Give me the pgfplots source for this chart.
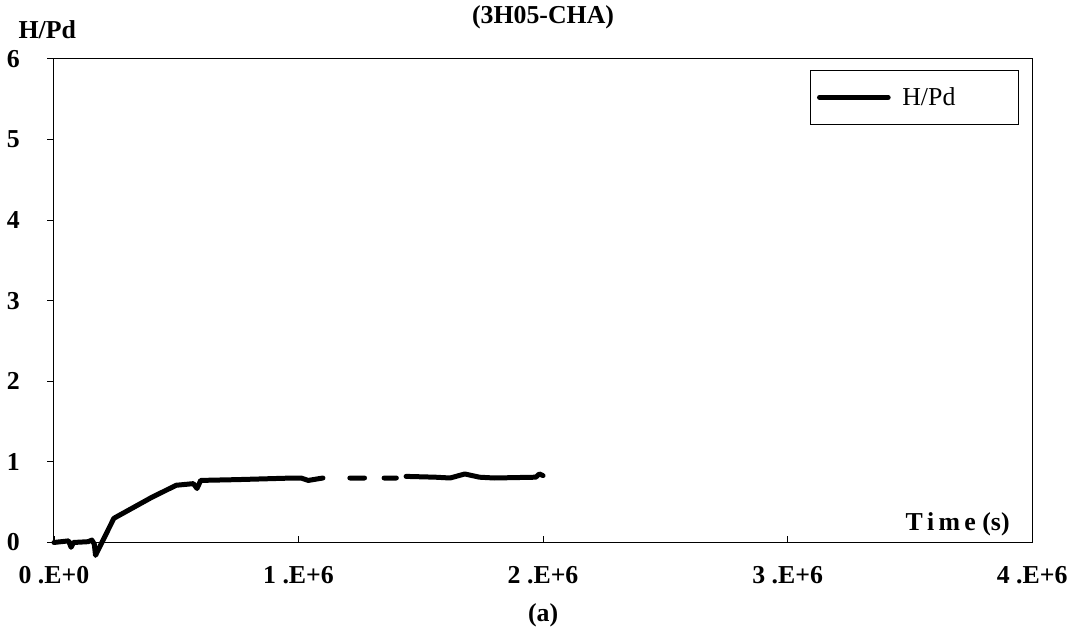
\documentclass[border=0pt]{standalone}
\usepackage{pgfplots}
\pgfplotsset{compat=1.18}
\usepackage{fontspec}
\setmainfont{Liberation Serif}
\begin{document}
\begin{tikzpicture}
\begin{axis}[
  name=ax,
  scale only axis,
  width=587.4pt, height=290.4pt,
  xmin=0, xmax=4, ymin=0, ymax=6,
  axis line style={line width=0.6pt},
  xtick={0,1,2,3,4},
  xticklabels={\textbf{0 .E+0},\textbf{1 .E+6},\textbf{2 .E+6},\textbf{3 .E+6},\textbf{4 .E+6}},
  ytick={0,1,2,3,4,5,6},
  yticklabels={\textbf{0},\textbf{1},\textbf{2},\textbf{3},\textbf{4},\textbf{5},\textbf{6}},
  tick style={black, line width=0.5pt},
  major tick length=4pt,
  ytick align=outside, xtick align=inside,
  xtick pos=bottom, ytick pos=left,
  ticklabel style={font=\fontsize{15.5}{18}\selectfont},
  yticklabel style={xshift=-13pt},
  xticklabel style={yshift=-11pt},
  clip=false,
  unbounded coords=jump,
  legend style={at={(0.987,0.977)}, anchor=north east, draw=black, line width=0.6pt,
    inner xsep=4pt, inner ysep=8pt, font=\fontsize{15.5}{18}\selectfont},
  legend cell align=left,
  legend image code/.code={\draw[line width=3pt,black] (0cm,0cm) -- (1.45cm,0cm);},
]
\addplot[black, line width=3pt, line join=round, line cap=round] coordinates {
(0,0.0) (0.03,0.01) (0.06,0.02) (0.07,-0.06) (0.08,0.0) (0.14,0.01) (0.155,0.03)
(0.165,-0.02) (0.17,-0.16) (0.245,0.30) (0.40,0.56) (0.50,0.71) (0.57,0.73)
(0.585,0.67) (0.60,0.77) (0.75,0.78) (0.98,0.80) (1.01,0.80) (1.04,0.77) (1.10,0.80)
(1.15,nan)
(1.21,0.80) (1.27,0.80)
(1.30,nan)
(1.35,0.80) (1.40,0.80)
(1.42,nan)
(1.44,0.82) (1.56,0.81) (1.62,0.80) (1.68,0.85) (1.74,0.81) (1.80,0.80) (1.97,0.81) (1.985,0.85) (2.0,0.83)
};
\addlegendentry{\hspace*{5pt}\makebox[64pt][l]{H/Pd}}
\node[font=\fontsize{15.5}{18}\selectfont\bfseries] at ([xshift=-4pt,yshift=17.4pt]rel axis cs:0,1) {H/Pd};
\node[font=\fontsize{15.5}{18}\selectfont\bfseries] at ([yshift=25pt]rel axis cs:0.5,1) {(3H05-CHA)};
\node[font=\fontsize{15.5}{18}\selectfont\bfseries, anchor=east] at ([xshift=-10pt,yshift=11pt]rel axis cs:1,0) {T\,i\,m\,e (s)};
\node[font=\fontsize{15.5}{18}\selectfont\bfseries] at ([yshift=-44pt]rel axis cs:0.5,0) {(a)};
\end{axis}
\path (ax.south west) +(-32.4pt,-52.2pt);
\path (ax.north east) +(24pt,32.4pt);
\end{tikzpicture}
\end{document}
